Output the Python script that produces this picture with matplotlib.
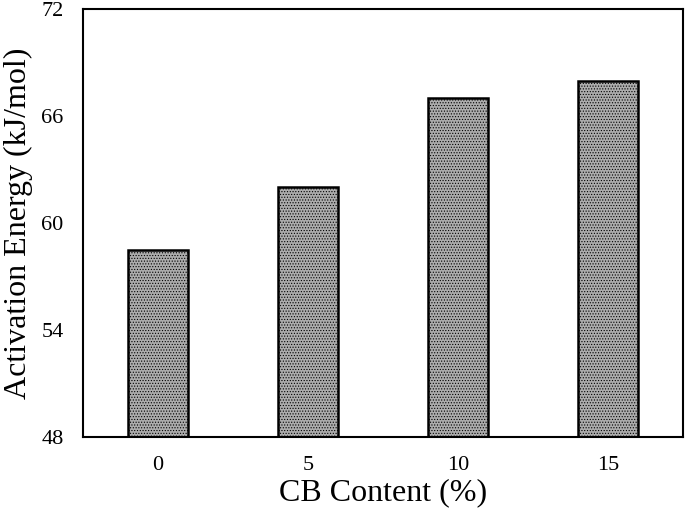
import numpy as np
import matplotlib
matplotlib.use('Agg')
import matplotlib.pyplot as plt

# data
cb_content = ['0', '5', '10', '15']
activation_energy = [58.5, 62.0, 67.0, 68.0]

plt.rcParams['font.family'] = ['Liberation Serif', 'DejaVu Serif']
plt.rcParams['hatch.color'] = '#d2d2d2'
plt.rcParams['hatch.linewidth'] = 0.5

fig = plt.figure(figsize=(6.85, 5.14), dpi=100)
ax = fig.add_axes([0.121, 0.150, 0.876, 0.832])

x = np.arange(len(cb_content))
ax.bar(x, activation_energy, width=0.4, bottom=0, color='#acacac',
       edgecolor='black', linewidth=1.8, hatch='......', zorder=2)

ax.set_xlim(-0.5, 3.5)
ax.set_ylim(48, 72)
ax.set_yticks([48, 54, 60, 66, 72])
ax.set_xticks(x)
ax.set_xticklabels(cb_content)
ax.tick_params(length=0, labelsize=16)
ax.tick_params(axis='x', pad=14)
ax.tick_params(axis='y', pad=14)
for s in ax.spines.values():
    s.set_linewidth(1.5)

ax.set_xlabel('CB Content (%)', fontsize=23, labelpad=2)
ax.set_ylabel('Activation Energy (kJ/mol)', fontsize=23, labelpad=6)

fig.savefig('out.png', dpi=100)
